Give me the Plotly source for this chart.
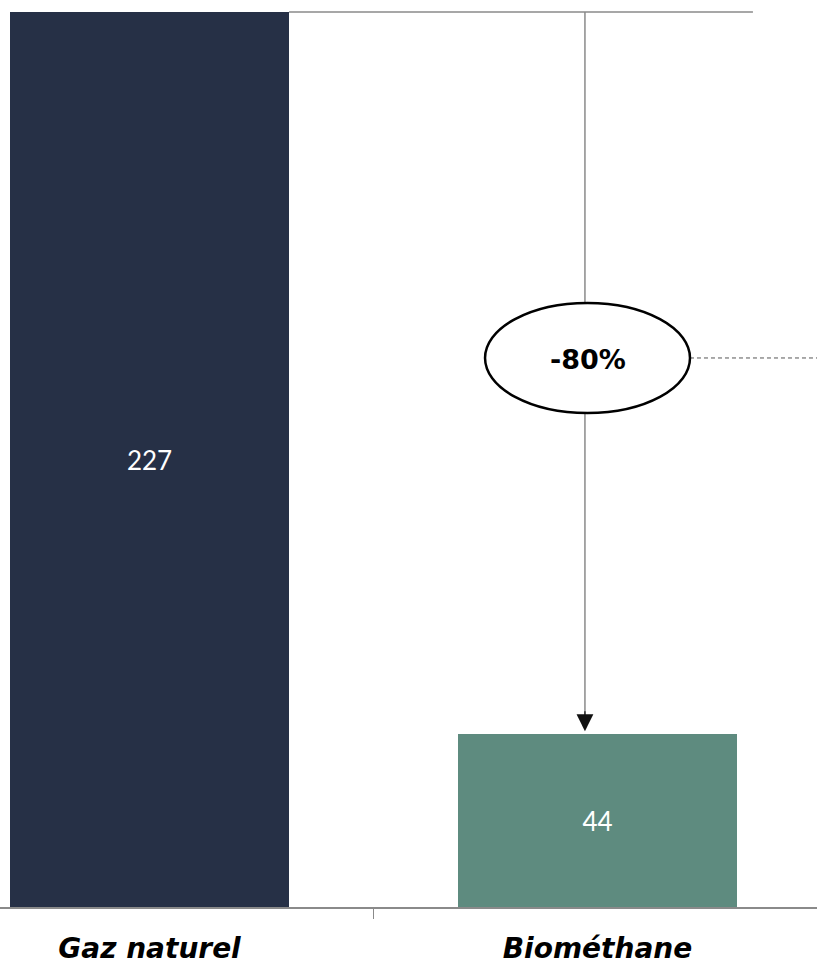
import plotly.graph_objects as go

# Émissions comparées (valeurs par filière)
categories = ["Gaz naturel", "Biométhane"]
values = [227, 44]
bar_colors = ["#263046", "#5e8b7f"]
reduction_label = "-80%"

fig = go.Figure()

fig.add_trace(go.Bar(
    x=categories,
    y=values,
    marker=dict(color=bar_colors, line=dict(width=0)),
    width=0.623,
    text=[str(v) for v in values],
    textposition="inside",
    insidetextanchor="middle",
    textfont=dict(color="white", size=26, family="Lato"),
    hoverinfo="skip",
))

line_grey = "#8a8a8a"
arrow_x = 0.972
ell_x0, ell_x1 = 0.749, 1.2065
ell_y0, ell_y1 = 125.3, 153.2
ell_mid = (ell_y0 + ell_y1) / 2

# Horizontal reference line at the level of the first bar
fig.add_shape(type="line", xref="x", yref="y",
              x0=0.3115, x1=1.347, y0=values[0], y1=values[0],
              line=dict(color=line_grey, width=1.5))

# Vertical connector, interrupted by the ellipse
fig.add_shape(type="line", xref="x", yref="y",
              x0=arrow_x, x1=arrow_x, y0=values[0], y1=ell_y1,
              line=dict(color=line_grey, width=1.5))
fig.add_shape(type="line", xref="x", yref="y",
              x0=arrow_x, x1=arrow_x, y0=ell_y0, y1=values[1] + 4,
              line=dict(color=line_grey, width=1.5))

# Arrow head resting on the second bar
fig.add_annotation(
    x=arrow_x, y=values[1] + 0.6, ax=arrow_x, ay=values[1] + 6,
    xref="x", yref="y", axref="x", ayref="y",
    showarrow=True, arrowhead=2, arrowsize=2.8, arrowwidth=1.2,
    arrowcolor="#111111", text="",
)

# Dashed leader to the right of the ellipse
fig.add_shape(type="line", xref="x", yref="y",
              x0=ell_x1, x1=1.50, y0=ell_mid, y1=ell_mid,
              line=dict(color="#555555", width=1, dash="4px,3px"))

# Ellipse holding the reduction label
fig.add_shape(type="circle", xref="x", yref="y",
              x0=ell_x0, x1=ell_x1, y0=ell_y0, y1=ell_y1,
              line=dict(color="black", width=2.5), fillcolor="white")

fig.add_annotation(x=(ell_x0 + ell_x1) / 2, y=ell_mid - 0.3, xref="x", yref="y",
                   text=reduction_label, showarrow=False,
                   font=dict(size=27, color="black", family="DejaVu Sans", weight="bold"))

fig.update_layout(
    width=817, height=970,
    margin=dict(l=0, r=0, t=0, b=63, autoexpand=False),
    paper_bgcolor="white", plot_bgcolor="white",
    showlegend=False,
    bargap=0,
)

fig.update_xaxes(
    range=[-0.3337, 1.490],
    automargin=False,
    showline=True, linecolor=line_grey, linewidth=1.5,
    ticks="outside", tickson="boundaries", ticklen=10, tickcolor=line_grey,
    tickwidth=1.2,
    ticklabelstandoff=16,
    tickfont=dict(size=28, color="black", family="DejaVu Sans", weight="bold", style="italic"),
    showgrid=False, zeroline=False, fixedrange=True,
)
fig.update_yaxes(
    range=[0, 230.04], visible=False, automargin=False,
    showgrid=False, zeroline=False, fixedrange=True,
)

fig.write_html("out.html")
